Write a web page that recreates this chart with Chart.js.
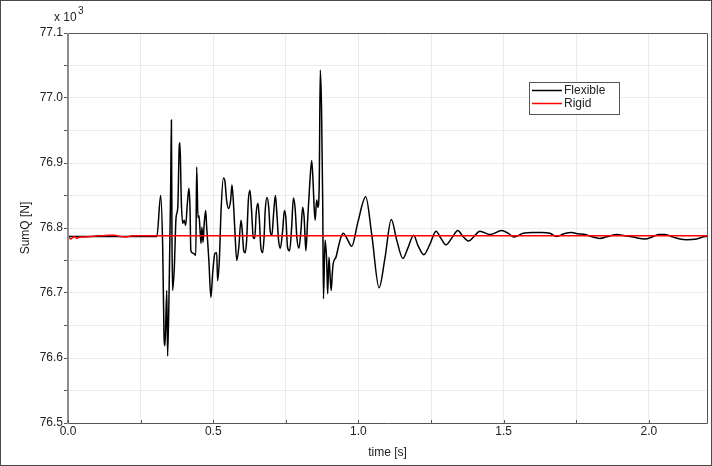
<!DOCTYPE html>
<html>
<head>
<meta charset="utf-8">
<script src="https://cdn.jsdelivr.net/npm/chart.js@4.4.1/dist/chart.umd.min.js"></script>
<style>
  html, body { margin: 0; padding: 0; background: #fff; }
  #wrap { width: 712px; height: 466px; position: relative; }
</style>
</head>
<body>
<div id="wrap"><canvas id="lineChart" width="712" height="466"></canvas></div>
<script>
// time [s] and SumQ [N] (x 10^3)
var flexTime = [0, 0.306, 0.319, 0.326, 0.3305, 0.334, 0.340, 0.343, 0.349, 0.3535, 0.356, 0.358, 0.360, 0.366, 0.372, 0.378,
  0.383, 0.3855, 0.390, 0.395, 0.400, 0.405, 0.411, 0.4165, 0.420, 0.423, 0.431, 0.440, 0.443, 0.4475, 0.451, 0.454,
  0.458, 0.461, 0.465, 0.469, 0.474, 0.4775, 0.481, 0.485, 0.492, 0.498, 0.506, 0.512, 0.515, 0.521, 0.527, 0.535,
  0.540, 0.546, 0.553, 0.560, 0.5645, 0.569, 0.574, 0.581, 0.588, 0.5955, 0.599, 0.605, 0.610, 0.615, 0.621, 0.6265,
  0.632, 0.638, 0.643, 0.648, 0.654, 0.6585, 0.664, 0.670, 0.675, 0.679, 0.685, 0.691, 0.696, 0.702, 0.708, 0.714,
  0.719, 0.725, 0.731, 0.739, 0.745, 0.750, 0.756, 0.763, 0.770, 0.776, 0.782, 0.788, 0.795, 0.802, 0.808, 0.813,
  0.819, 0.825, 0.833, 0.839, 0.843, 0.848, 0.851, 0.856, 0.8605, 0.865, 0.8685, 0.873, 0.877, 0.8795, 0.885, 0.8905,
  0.894, 0.8985, 0.902, 0.906, 0.910, 0.913, 0.9225, 0.9305, 0.939, 0.948, 0.959, 0.977, 0.998, 1.025, 1.046, 1.071,
  1.091, 1.113, 1.132, 1.153, 1.170, 1.190, 1.205, 1.225, 1.246, 1.267, 1.284, 1.301, 1.322, 1.342, 1.360, 1.380,
  1.398, 1.418, 1.453, 1.493, 1.515, 1.536, 1.567, 1.601, 1.631, 1.659, 1.682, 1.707, 1.734, 1.756, 1.780, 1.807,
  1.831, 1.859, 1.889, 1.917, 1.946, 1.986, 2.015, 2.034, 2.055, 2.084, 2.107, 2.130, 2.164, 2.196, 2.2];
var flexValue = [76.787, 76.787, 76.850, 76.771, 76.637, 76.619, 76.704, 76.603, 76.730, 76.863, 76.966, 76.781, 76.704, 76.739, 76.816, 76.832,
  76.925, 76.931, 76.843, 76.807, 76.812, 76.804, 76.838, 76.861, 76.832, 76.765, 76.761, 76.758, 76.894, 76.816, 76.819, 76.801,
  76.776, 76.801, 76.778, 76.807, 76.827, 76.801, 76.778, 76.750, 76.693, 76.730, 76.761, 76.762, 76.719, 76.750, 76.827, 76.877,
  76.873, 76.843, 76.830, 76.843, 76.866, 76.843, 76.801, 76.750, 76.770, 76.812, 76.801, 76.765, 76.762, 76.781, 76.843, 76.858,
  76.827, 76.785, 76.784, 76.823, 76.838, 76.816, 76.770, 76.762, 76.785, 76.827, 76.847, 76.832, 76.796, 76.789, 76.823, 76.850,
  76.823, 76.781, 76.769, 76.796, 76.827, 76.816, 76.770, 76.765, 76.801, 76.846, 76.830, 76.785, 76.769, 76.796, 76.832, 76.816,
  76.765, 76.812, 76.873, 76.904, 76.878, 76.827, 76.812, 76.843, 76.832, 76.869, 77.043, 76.981, 76.838, 76.691, 76.781, 76.750,
  76.699, 76.755, 76.730, 76.704, 76.730, 76.745, 76.755, 76.770, 76.785, 76.792, 76.785, 76.772, 76.809, 76.848, 76.789, 76.708,
  76.753, 76.813, 76.781, 76.753, 76.769, 76.789, 76.773, 76.759, 76.775, 76.795, 76.784, 76.774, 76.785, 76.796, 76.787, 76.780,
  76.787, 76.795, 76.790, 76.796, 76.792, 76.786, 76.792, 76.793, 76.793, 76.792, 76.787, 76.791, 76.793, 76.791, 76.790, 76.786,
  76.784, 76.787, 76.790, 76.788, 76.786, 76.783, 76.787, 76.790, 76.790, 76.786, 76.783, 76.782, 76.783, 76.787, 76.787];

var rigidTime = [0, 0.01, 0.02, 0.03, 0.04, 0.06, 0.08, 0.10, 0.12, 0.14, 0.16, 0.18, 0.20, 0.22, 0.25, 0.30, 2.2];
var rigidValue = [76.786, 76.783, 76.787, 76.784, 76.786, 76.786, 76.787, 76.788, 76.788, 76.789, 76.789, 76.787, 76.786, 76.788, 76.788, 76.788, 76.788];

var xTicks = [0.0, 0.5, 1.0, 1.5, 2.0];
var yTicks = [76.5, 76.6, 76.7, 76.8, 76.9, 77.0, 77.1];
var legendNames = ['Flexible', 'Rigid'];
var lineColors = ['#000000', '#ff0000'];

var FONT = '"Liberation Sans", Arial, sans-serif';

function toPoints(xs, ys) {
  return xs.map(function (x, i) { return { x: x, y: ys[i] }; });
}

var framePlugin = {
  id: 'frame',
  afterDraw: function (chart) {
    var ctx = chart.ctx;
    var a = chart.chartArea;
    var xs = chart.scales.x;
    ctx.save();
    // outer border
    ctx.strokeStyle = '#4a4a4a';
    ctx.lineWidth = 1;
    ctx.strokeRect(0.5, 0.5, chart.width - 1, chart.height - 1);
    // plot frame
    ctx.strokeStyle = '#555';
    ctx.beginPath();
    ctx.moveTo(a.left, a.top + 0.5); ctx.lineTo(a.right + 0.5, a.top + 0.5);
    ctx.lineTo(a.right + 0.5, a.bottom + 0.5); ctx.lineTo(a.left, a.bottom + 0.5);
    ctx.stroke();
    ctx.strokeStyle = '#8c8c8c';
    ctx.lineWidth = 2;
    ctx.beginPath();
    ctx.moveTo(a.left, a.top); ctx.lineTo(a.left, a.bottom + 1);
    ctx.stroke();
    // inner x ticks
    ctx.strokeStyle = '#555';
    ctx.lineWidth = 1;
    ctx.beginPath();
    xs.ticks.forEach(function (t) {
      var px = Math.round(xs.getPixelForValue(t.value)) + 0.5;
      ctx.moveTo(px, a.bottom); ctx.lineTo(px, a.bottom - 3);
    });
    ctx.stroke();
    // x 10^3
    ctx.fillStyle = '#222';
    ctx.textBaseline = 'alphabetic';
    ctx.font = '12px ' + FONT;
    ctx.fillText('x 10', 54, 21);
    ctx.font = '10px ' + FONT;
    ctx.fillText('3', 78, 14);
    // legend box
    var bx = 529, by = 82, bw = 90, bh = 32;
    ctx.fillStyle = '#fff';
    ctx.fillRect(bx, by, bw, bh);
    ctx.strokeStyle = '#555';
    ctx.strokeRect(bx + 0.5, by + 0.5, bw, bh);
    ctx.font = '12px ' + FONT;
    ctx.textBaseline = 'middle';
    legendNames.forEach(function (name, i) {
      var ly = by + 8.5 + i * 13;
      ctx.strokeStyle = lineColors[i];
      ctx.lineWidth = 1.5;
      ctx.beginPath();
      ctx.moveTo(bx + 3, ly); ctx.lineTo(bx + 33, ly);
      ctx.stroke();
      ctx.fillStyle = '#222';
      ctx.fillText(name, bx + 35, ly);
    });
    ctx.restore();
  }
};

var ctx = document.getElementById('lineChart');
new Chart(ctx, {
  type: 'line',
  plugins: [framePlugin],
  data: {
    datasets: [
      {
        label: legendNames[1],
        data: toPoints(rigidTime, rigidValue),
        borderColor: lineColors[1],
        backgroundColor: lineColors[1],
        borderWidth: 1.5,
        pointRadius: 0,
        fill: false,
        tension: 0,
      },
      {
        label: legendNames[0],
        data: toPoints(flexTime, flexValue),
        borderColor: lineColors[0],
        backgroundColor: lineColors[0],
        borderWidth: 1.5,
        pointRadius: 0,
        fill: false,
        cubicInterpolationMode: 'monotone',
      },
    ]
  },
  options: {
    responsive: false,
    animation: false,
    layout: { padding: { top: 33, right: 5, left: 0, bottom: 0 } },
    plugins: {
      legend: { display: false },
      tooltip: { enabled: false },
      title: { display: false },
    },
    scales: {
      x: {
        type: 'linear',
        min: 0,
        max: 2.2,
        afterFit: function (s) { s.height = 43; },
        border: { display: false },
        grid: { color: '#ebebeb', drawTicks: false },
        ticks: {
          stepSize: 0.25,
          autoSkip: false,
          maxRotation: 0,
          padding: 1,
          color: '#222',
          font: { size: 12, family: FONT },
          callback: function (v) {
            var r = Math.round(v * 100);
            return xTicks.some(function (t) { return Math.round(t * 100) === r; }) ? (r / 100).toFixed(1) : '';
          }
        },
        title: {
          display: true,
          text: 'time [s]',
          color: '#222',
          font: { size: 12, family: FONT },
          padding: { top: 0, bottom: 6 }
        }
      },
      y: {
        type: 'linear',
        min: 76.5,
        max: 77.1,
        afterFit: function (s) { s.width = 68; },
        border: { display: false },
        grid: { color: '#ebebeb', drawTicks: true, tickLength: 4, tickColor: '#555' },
        ticks: {
          stepSize: 0.05,
          autoSkip: false,
          padding: 1,
          color: '#222',
          font: { size: 12, family: FONT },
          callback: function (v) {
            var r = Math.round(v * 100);
            return yTicks.some(function (t) { return Math.round(t * 100) === r; }) ? (r / 100).toFixed(1) : '';
          }
        },
        title: {
          display: true,
          text: 'SumQ [N]',
          color: '#222',
          font: { size: 12, family: FONT },
          padding: { top: 18, bottom: 0 }
        }
      }
    }
  }
});
</script>
</body>
</html>
